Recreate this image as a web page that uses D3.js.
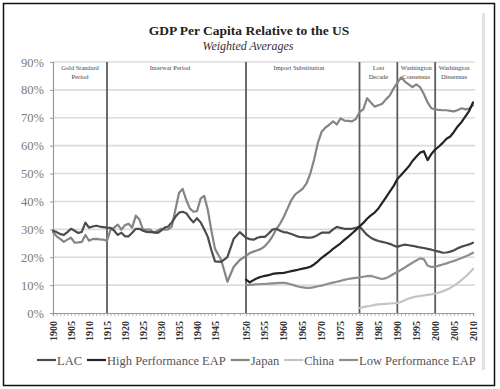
<!DOCTYPE html>
<html>
<head>
<meta charset="utf-8">
<script src="https://cdnjs.cloudflare.com/ajax/libs/d3/7.8.5/d3.min.js"></script>
<style>
  body { margin: 0; background: #fff; }
  svg text { font-family: "Liberation Serif", "DejaVu Serif", serif; }
</style>
</head>
<body>
<div id="chart"></div>
<script>
// values, % of US GDP per capita
var lacStart = 1900;
var lac = [
  29.5, 29, 28.3, 28, 29, 30.2, 29.5, 28.7, 29.1, 32.4,
  30.6, 31, 31.3, 31, 30.8, 30.6, 30.5, 29.5, 28, 28.8,
  27.5, 27.5, 28.8, 30.2, 30.2, 29.5, 29.1, 29, 29, 28.7,
  29.5, 30.6, 31, 32.5, 34.5, 36, 36.3, 35.8, 34, 32.5,
  34, 32.5, 30, 27.3, 22.5, 18.5, 18.3, 20, 26.5, 29,
  27, 26.5, 26.3, 27, 27.3, 27.3, 28.5, 29.9, 30.2, 29.5,
  29, 28.8, 28.3, 27.8, 27.3, 27.2, 27, 27, 27.3, 28,
  28.8, 28.8, 28.8, 30, 30.9, 30.5, 30.2, 30.2, 30.2, 30.5,
  31, 29.5, 28, 27, 26.3, 25.8, 25.5, 25.2, 24.8, 24.2,
  23.7, 24.2, 24.5, 24.3, 24.1, 23.8, 23.5, 23.3, 23, 22.7,
  22.3, 22, 21.6, 21.7, 22, 22.5, 23.2, 23.8, 24.2, 24.6, 25.2
];
var japanStart = 1900;
var japan = [
  29, 27.5, 26.6, 25.5, 26.3, 27, 25.2, 25.3, 25.5, 28,
  25.9, 26.5, 26.6, 26.4, 26.3, 25.9, 29.9, 30.6, 31.7, 29.9,
  31.5, 32, 30.6, 34.9, 33.5, 29.9, 29.9, 29.9, 28.7, 29.5,
  30.2, 29.9, 30, 31, 37, 43, 44.5, 40.6, 37.5, 36.3,
  36.5, 41, 42, 37, 29.5, 23, 19, 11.2, 16.5, 19,
  20.5, 21.5, 22, 22.5, 23, 24, 25.5, 27.5, 30, 32,
  34.5, 37.5, 40.5, 42.5, 43.5, 44.6, 46.5, 50, 55, 61,
  65, 66.5, 67.5, 68.7, 67.6, 69.8, 69, 68.9, 68.7, 69.5,
  72, 73, 77, 75.5, 74, 74.5, 75, 76.6, 78, 80.5,
  82.5, 84.5, 83, 82, 81, 82, 81, 78.5, 75.5, 73.4,
  73, 72.8, 72.7, 72.7, 72.5, 72.3, 72.8, 73.4, 73, 73.3, 74.5
];
var hpStart = 1950;
var hpEap = [
  12, 11, 11.8, 12.5, 13, 13.3, 13.6, 14, 14.2, 14.3,
  14.4, 14.7, 15, 15.3, 15.6, 15.9, 16.2, 16.6, 17.4, 18.5,
  19.8, 20.8, 21.8, 23, 24, 25, 26.2, 27.3, 28.5, 29.7,
  31, 32.3, 33.8, 35, 36, 37.5, 39.5, 41.5, 43.5, 45.5,
  48, 49.5, 51, 52.5, 54.5, 56, 57.5, 58, 54.8, 57,
  58.6, 59.7, 61, 62.5, 63.3, 65, 67, 68.5, 70.5, 72.5, 75.5
];
var lpStart = 1950;
var lpEap = [
  10, 10.1, 10.2, 10.3, 10.4, 10.4, 10.5, 10.6, 10.7, 10.8,
  10.8, 10.6, 10.2, 9.8, 9.4, 9.2, 9, 9, 9.3, 9.6,
  9.8, 10.2, 10.6, 10.9, 11.2, 11.5, 11.9, 12.2, 12.4, 12.6,
  12.8, 13, 13.2, 13.3, 12.9, 12.5, 12.2, 12.5, 13.2, 14,
  14.7, 15.5, 16.3, 17.2, 18, 18.8, 19.6, 19.3, 17, 16.5,
  16.6, 17, 17.4, 17.8, 18.3, 18.7, 19.2, 19.7, 20.3, 20.9, 21.6
];
var chinaStart = 1980;
var china = [
  1.8, 2.1, 2.4, 2.6, 2.9, 3.1, 3.2, 3.3, 3.4, 3.5,
  3.6, 4, 4.6, 5.2, 5.6, 5.9, 6.1, 6.3, 6.5, 6.7,
  6.9, 7.3, 7.8, 8.3, 9, 9.8, 10.8, 11.9, 13, 14.3, 15.8
];

var seriesNames = ['LAC', 'High Performance EAP', 'Japan', 'China', 'Low Performance EAP'];
var seriesColors = ['#4c4c4c', '#242424', '#858585', '#c4c4c4', '#8e8e8e'];

var yTicks = [0, 10, 20, 30, 40, 50, 60, 70, 80, 90];
var xLabels = [1900, 1905, 1910, 1915, 1920, 1925, 1930, 1935, 1940, 1945, 1950, 1955,
               1960, 1965, 1970, 1975, 1980, 1985, 1990, 1995, 2000, 2005, 2010];
var periodBreaks = [1915, 1950, 1980, 1990, 2000];
var periodLabels = [
  {mid: 1907.5, lines: ['Gold Standard', 'Period']},
  {mid: 1932.5, lines: ['Interwar Period']},
  {mid: 1964, lines: ['Import Substitution']},
  {mid: 1985, lines: ['Lost', 'Decade']},
  {mid: 1995, lines: ['Washington', 'Consensus']},
  {mid: 2005, lines: ['Washington', 'Dissensus']}
];

var W = 500, H = 389;
var svg = d3.select('#chart').append('svg')
    .attr('width', W)
    .attr('height', H);

// frame + shadow strip on the right
svg.append('rect')
    .attr('x', 3.5).attr('y', 3.5)
    .attr('width', 491).attr('height', 382)
    .attr('fill', '#fff')
    .attr('stroke', '#111')
    .attr('stroke-width', 1.5);
svg.append('rect')
    .attr('x', 482).attr('y', 13)
    .attr('width', 3).attr('height', 357)
    .attr('fill', '#e2e2e2');

// the category axis has a few extra slots between 1945 and 1950
var x = d3.scaleLinear()
    .domain([1900, 1945, 1950, 2010])
    .range([53, 215, 246, 473]);
var y = d3.scaleLinear()
    .domain([0, 90])
    .range([313, 62]);

// title
svg.append('text')
    .attr('x', 249).attr('y', 35)
    .attr('text-anchor', 'middle')
    .style('font-size', '13.5px')
    .style('font-weight', 'bold')
    .attr('fill', '#222')
    .text('GDP Per Capita Relative to the US');
svg.append('text')
    .attr('x', 248).attr('y', 50)
    .attr('text-anchor', 'middle')
    .style('font-size', '12px')
    .style('font-style', 'italic')
    .attr('fill', '#333')
    .text('Weighted Averages');

// gridlines
svg.append('g')
    .selectAll('line')
    .data(yTicks.slice(1))
    .join('line')
    .attr('x1', x(1900)).attr('x2', x(2010) + 2)
    .attr('y1', function(d) { return y(d); })
    .attr('y2', function(d) { return y(d); })
    .attr('stroke', '#dcdcdc')
    .attr('stroke-width', 1.6);

// y axis
var yAxis = svg.append('g')
    .attr('transform', 'translate(' + x(1900) + ',0)')
    .call(d3.axisLeft(y).tickValues(yTicks).tickSize(3).tickPadding(6)
        .tickFormat(function(d) { return d + '%'; }));
yAxis.select('.domain').attr('stroke', '#9a9a9a').attr('stroke-width', 1.2);
yAxis.selectAll('.tick line').attr('stroke', '#9a9a9a');
yAxis.selectAll('.tick text')
    .style('font-family', '"Liberation Serif", serif')
    .style('font-size', '12.5px')
    .attr('fill', '#7a7a7a');

// period separators
svg.append('g')
    .selectAll('line')
    .data(periodBreaks)
    .join('line')
    .attr('x1', function(d) { return x(d); })
    .attr('x2', function(d) { return x(d); })
    .attr('y1', y(90)).attr('y2', y(0))
    .attr('stroke', '#5c5c5c')
    .attr('stroke-width', 1.8);

// period names
var pl = svg.append('g');
periodLabels.forEach(function(p) {
    p.lines.forEach(function(t, i) {
        pl.append('text')
            .attr('x', x(p.mid))
            .attr('y', 70 + i * 8.5)
            .attr('text-anchor', 'middle')
            .style('font-size', '6.5px')
            .attr('fill', '#444')
            .text(t);
    });
});

// x axis: a small tick for every year, labels every 5 years
var years = d3.range(1900, 2011);
var xAxis = svg.append('g')
    .attr('transform', 'translate(0,' + y(0) + ')')
    .call(d3.axisBottom(x).tickValues(years).tickSize(3).tickFormat(''));
xAxis.select('.domain').attr('stroke', '#9a9a9a').attr('stroke-width', 1.2);
xAxis.selectAll('.tick line').attr('stroke', '#9a9a9a').attr('stroke-width', 0.7);

svg.append('g')
    .selectAll('text')
    .data(xLabels)
    .join('text')
    .attr('transform', function(d) { return 'translate(' + x(d) + ',' + (y(0) + 8) + ') rotate(-90)'; })
    .attr('text-anchor', 'end')
    .attr('dy', '0.35em')
    .style('font-size', '10px')
    .style('font-weight', 'bold')
    .attr('fill', '#333')
    .text(function(d) { return d; });

// series
function toPoints(start, vals)
{
    var pts = [];
    for (var i=0; i<vals.length; i++)
        pts.push([start + i, vals[i]]);
    return pts;
}
var seriesData = [
    toPoints(lacStart, lac),
    toPoints(hpStart, hpEap),
    toPoints(japanStart, japan),
    toPoints(chinaStart, china),
    toPoints(lpStart, lpEap)
];
var line = d3.line()
    .x(function(d) { return x(d[0]); })
    .y(function(d) { return y(d[1]); });

var drawOrder = [3, 4, 2, 0, 1];
var sg = svg.append('g');
for (var k=0; k<drawOrder.length; k++)
{
    var s = drawOrder[k];
    sg.append('path')
        .attr('d', line(seriesData[s]))
        .attr('fill', 'none')
        .attr('stroke', seriesColors[s])
        .attr('stroke-width', 2.2)
        .attr('stroke-linejoin', 'round')
        .attr('stroke-linecap', 'round');
}

// legend
var lg = svg.append('g').attr('transform', 'translate(37,360)');
var lx = 0;
for (var i=0; i<seriesNames.length; i++)
{
    lg.append('line')
        .attr('x1', lx).attr('x2', lx + 19)
        .attr('y1', 0).attr('y2', 0)
        .attr('stroke', seriesColors[i])
        .attr('stroke-width', 2.2);
    var t = lg.append('text')
        .attr('x', lx + 20)
        .attr('y', 4.5)
        .style('font-size', '12.5px')
        .attr('fill', '#555')
        .text(seriesNames[i]);
    lx += 20 + t.node().getComputedTextLength() + 5;
}
</script>
</body>
</html>
